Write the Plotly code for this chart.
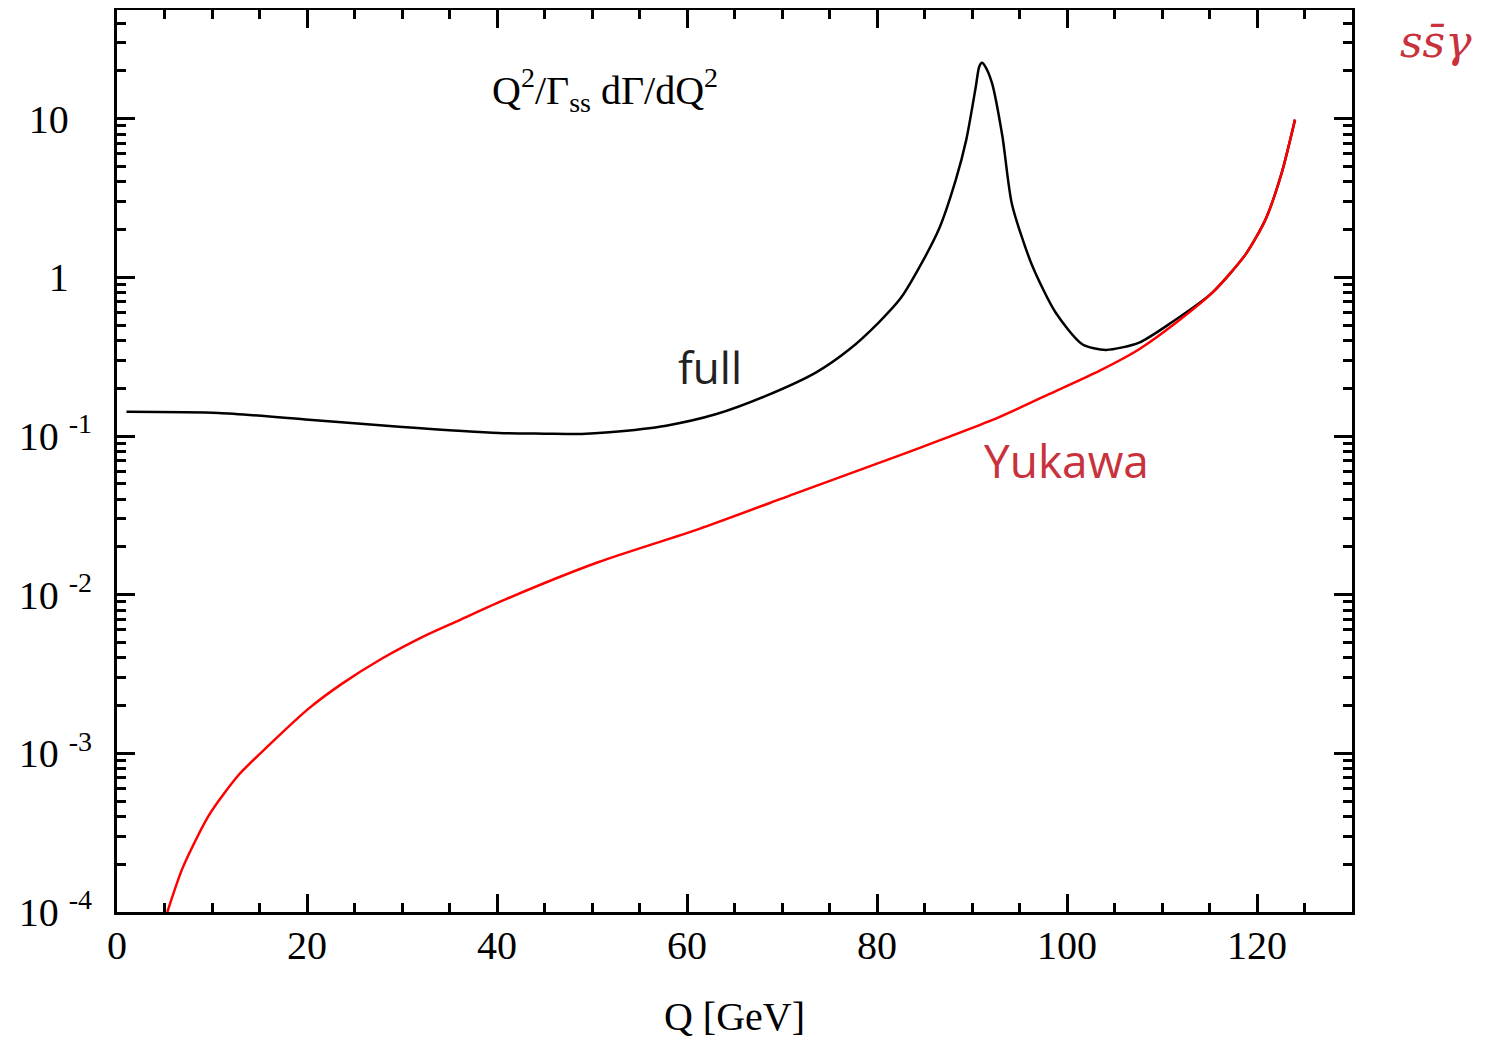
import plotly.graph_objects as go

# Full curve
q_full = [1, 10.7, 20.2, 29.7, 40.2, 45, 48.9, 51.8, 57.8, 63.1, 68.3, 73.6, 77.1, 80.2,
          82.5, 84.1, 86.5, 88.3, 89.4, 90.4, 90.75, 91.05, 91.4, 92.1, 93.2, 94.2, 96.3,
          98.8, 101.6, 104.1, 107.6, 111.0, 115.3, 118.8, 120.9, 122.6, 124.0]
full = [0.142, 0.1396, 0.1267, 0.1144, 0.1044, 0.1035, 0.1030, 0.1055, 0.1162, 0.1375,
        0.179, 0.252, 0.352, 0.521, 0.74, 1.06, 2.0, 4.13, 7.38, 15.9, 21.2, 22.5, 21.3,
        16.8, 7.75, 2.9, 1.2, 0.6, 0.379, 0.349, 0.388, 0.519, 0.801, 1.396, 2.32, 4.55, 9.86]

# Yukawa curve
q_yuk = [5.3, 6.9, 9.7, 12.8, 16.0, 20.2, 23.7, 27.9, 32.5, 36.0, 41.0, 50.7, 61.3, 71.8,
         82.3, 92.8, 98.1, 103.4, 107.6, 111.5, 115.3, 118.8, 120.9, 122.6, 124.0]
yuk = [1.0e-4, 1.89e-4, 4.09e-4, 7.30e-4, 1.127e-3, 1.92e-3, 2.75e-3, 3.96e-3, 5.54e-3,
       6.89e-3, 9.4e-3, 0.01606, 0.0260, 0.0443, 0.0752, 0.1312, 0.1836, 0.2576, 0.3525,
       0.519, 0.801, 1.396, 2.32, 4.55, 9.86]

x_ticks = [0, 20, 40, 60, 80, 100, 120]
y_ticks = [1e-4, 1e-3, 1e-2, 1e-1, 1, 10]
pad = '<span style="color:rgba(0,0,0,0)"><sup>-1</sup></span>'
y_ticktext = ['10&nbsp;<sup>-4</sup>', '10&nbsp;<sup>-3</sup>', '10&nbsp;<sup>-2</sup>',
              '10&nbsp;<sup>-1</sup>', '1' + pad, '10' + pad]
y_minor = [m * 10.0 ** k for k in range(-4, 2) for m in range(2, 10)]

serif = "Liberation Serif"
label_red = "#c8323c"

fig = go.Figure()
fig.add_trace(go.Scatter(x=q_full, y=full, mode="lines",
                         line=dict(color="black", width=2.5, shape="spline", smoothing=0.7),
                         showlegend=False))
fig.add_trace(go.Scatter(x=q_yuk, y=yuk, mode="lines",
                         line=dict(color="#ff0000", width=2.5, shape="spline", smoothing=0.7),
                         showlegend=False))

axis_common = dict(showline=True, linecolor="black", linewidth=3, mirror="ticks",
                   ticks="inside", tickcolor="black", tickwidth=2.5, ticklen=18,
                   showgrid=False, zeroline=False, automargin=False,
                   tickfont=dict(family=serif, size=40, color="black"))

fig.update_layout(
    width=1486, height=1046,
    margin=dict(l=109, r=142, t=2, b=142),
    paper_bgcolor="white", plot_bgcolor="white",
    xaxis=dict(range=[0, 130], tickmode="array", tickvals=x_ticks,
               minor=dict(dtick=5, tick0=0, ticks="inside", ticklen=9, tickwidth=2.5,
                          tickcolor="black"),
               ticklabelstandoff=-4,
               title=dict(text="Q [GeV]", font=dict(family=serif, size=40, color="black"),
                          standoff=35),
               **axis_common),
    yaxis=dict(type="log", range=[-4, 1.685], tickmode="array", tickvals=y_ticks,
               ticktext=y_ticktext,
               minor=dict(tickmode="array", tickvals=y_minor, ticks="inside", ticklen=9,
                          tickwidth=2.5, tickcolor="black"),
               ticklabelstandoff=14,
               **axis_common),
    annotations=[
        dict(text="Q<sup>2</sup>/Γ<sub>ss</sub> dΓ/dQ<sup>2</sup>", x=0.395, y=0.9115,
             xref="paper", yref="paper", xanchor="center", yanchor="middle", showarrow=False,
             font=dict(family=serif, size=40, color="black")),
        dict(text="full", x=62.4, y=-0.566, xref="x", yref="y", showarrow=False,
             xanchor="center", yanchor="middle",
             font=dict(family="Open Sans", size=44, color="#222222")),
        dict(text="Yukawa", x=99.9, y=-1.151, xref="x", yref="y", showarrow=False,
             xanchor="center", yanchor="middle",
             font=dict(family="Open Sans", size=46, color=label_red)),
        dict(text="<i>ss̄γ</i>", x=1.068, y=0.965, xref="paper", yref="paper",
             xanchor="center", yanchor="middle",
             showarrow=False, font=dict(family="DejaVu Serif", size=44, color=label_red)),
    ],
)

fig.write_html("out.html")
